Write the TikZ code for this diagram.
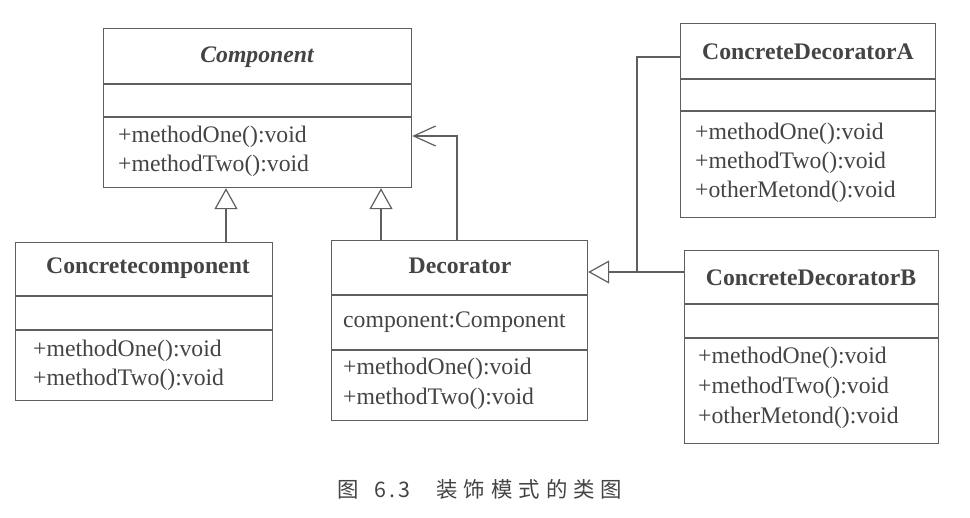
\documentclass[tikz,border=0pt]{standalone}
\usepackage{fontspec}
\setmainfont{Liberation Serif}
\newfontfamily\cjk{Noto Sans CJK SC}
\usetikzlibrary{arrows.meta,calc}
\definecolor{ink}{RGB}{68,68,68}
\definecolor{ln}{RGB}{95,95,95}
\begin{document}
\begin{tikzpicture}[x=1bp,y=-1bp,
  cls/.style={draw=ln, line width=1.2bp, anchor=north west, inner sep=0pt},
  sep/.style={draw=ln, line width=1.2bp},
  ttl/.style={text=ink, font=\fontsize{23.8}{28}\selectfont\bfseries, inner sep=0pt},
  mth/.style={text=ink, font=\fontsize{23.8}{28}\selectfont, anchor=west, inner sep=0pt},
  inh/.style={draw=ln, line width=1.2bp, -{Triangle[open, length=21bp, width=23bp, fill=white]}},
  assoc/.style={draw=ln, line width=1.2bp, -{Straight Barb[length=22bp, width=20bp]}},
  conn/.style={draw=ln, line width=1.2bp}]
\useasboundingbox (0,0) rectangle (970,518);
\fill[white] (0,0) rectangle (970,518);

% Component
\node[cls, minimum width=308bp, minimum height=159bp] (comp) at (103,28) {};
\draw[sep] ([yshift=-56bp]comp.north west) -- ([yshift=-56bp]comp.north east);
\draw[sep] ([yshift=-89bp]comp.north west) -- ([yshift=-89bp]comp.north east);
\node[ttl, font=\fontsize{23.8}{28}\selectfont\bfseries\itshape] (compT) at (257,57) {Component};
\node[mth] (compM1) at (118,137) {+methodOne():void};
\node[mth] (compM2) at (118,166) {+methodTwo():void};

% Concretecomponent
\node[cls, minimum width=257bp, minimum height=158bp] (cc) at (15,242) {};
\draw[sep] ([yshift=-54bp]cc.north west) -- ([yshift=-54bp]cc.north east);
\draw[sep] ([yshift=-88bp]cc.north west) -- ([yshift=-88bp]cc.north east);
\node[ttl] (ccT) at (148,268) {Concretecomponent};
\node[mth] (ccM1) at (33,351) {+methodOne():void};
\node[mth] (ccM2) at (33,380) {+methodTwo():void};

% Decorator
\node[cls, minimum width=256bp, minimum height=180bp] (dec) at (331,240) {};
\draw[sep] ([yshift=-55bp]dec.north west) -- ([yshift=-55bp]dec.north east);
\draw[sep] ([yshift=-110bp]dec.north west) -- ([yshift=-110bp]dec.north east);
\node[ttl] (decT) at (460,266) {Decorator};
\node[mth] (decA) at (343,322) {component:Component};
\node[mth] (decM1) at (343,369) {+methodOne():void};
\node[mth] (decM2) at (343,399) {+methodTwo():void};

% ConcreteDecoratorA
\node[cls, minimum width=255bp, minimum height=194bp] (cda) at (680,23) {};
\draw[sep] ([yshift=-56bp]cda.north west) -- ([yshift=-56bp]cda.north east);
\draw[sep] ([yshift=-88bp]cda.north west) -- ([yshift=-88bp]cda.north east);
\node[ttl] (cdaT) at (808,52) {ConcreteDecoratorA};
\node[mth] (cdaM1) at (695,134) {+methodOne():void};
\node[mth] (cdaM2) at (695,163) {+methodTwo():void};
\node[mth] (cdaM3) at (695,192) {+otherMetond():void};

% ConcreteDecoratorB
\node[cls, minimum width=254bp, minimum height=193bp] (cdb) at (684,250) {};
\draw[sep] ([yshift=-54bp]cdb.north west) -- ([yshift=-54bp]cdb.north east);
\draw[sep] ([yshift=-88bp]cdb.north west) -- ([yshift=-88bp]cdb.north east);
\node[ttl] (cdbT) at (811,278) {ConcreteDecoratorB};
\node[mth] (cdbM1) at (698,358) {+methodOne():void};
\node[mth] (cdbM2) at (698,388) {+methodTwo():void};
\node[mth] (cdbM3) at (698,418) {+otherMetond():void};

% helper coordinates
\coordinate (xa) at (226,0);
\coordinate (xb) at (381,0);
\coordinate (xc) at (457,0);
\coordinate (yc) at (0,136);
\coordinate (yd) at (0,272);
\coordinate (ya) at (0,57);
\coordinate (j) at (637,272);

% connectors
\draw[inh] (cc.north -| xa) -- (comp.south -| xa);
\draw[inh] (dec.north -| xb) -- (comp.south -| xb);
\draw[assoc] (dec.north -| xc) |- (comp.east |- yc);
\draw[inh] (cdb.west |- yd) -- (dec.east |- yd);
\draw[conn] (cda.west |- ya) -| (j);

% caption
\node[text=ink, anchor=west, inner sep=0pt, font=\cjk\fontsize{21.5}{24}\selectfont] (cap) at (337,489)
  {图\hspace{16bp}6\hspace{3bp}.\hspace{3bp}3\hspace{26bp}装\hspace{6bp}饰\hspace{6bp}模\hspace{6bp}式\hspace{6bp}的\hspace{6bp}类\hspace{6bp}图};
\end{tikzpicture}
\end{document}
